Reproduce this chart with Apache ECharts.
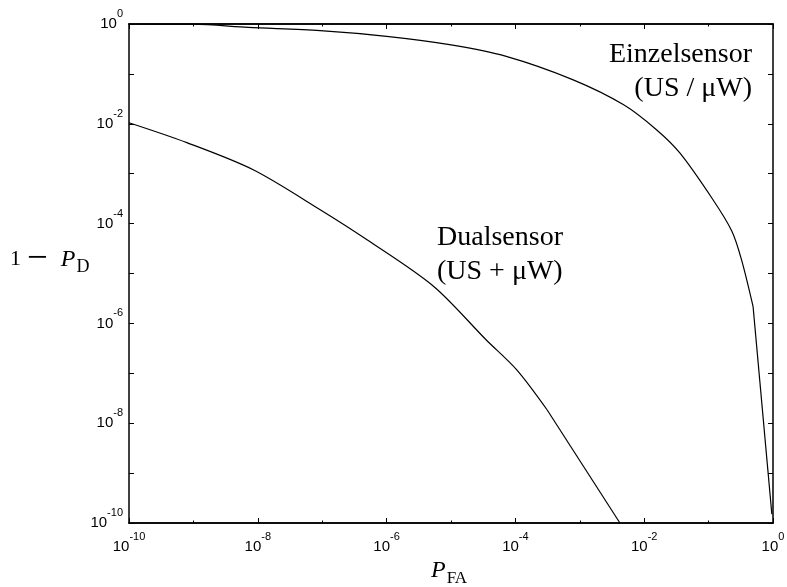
<!DOCTYPE html>
<html><head><meta charset="utf-8">
<script src="https://cdn.jsdelivr.net/npm/echarts@6/dist/echarts.min.js"></script>
<style>html,body{margin:0;padding:0;background:#fff}#c{width:787px;height:587px}</style>
</head><body><div id="c"></div>
<script>
// Einzelsensor (US / µW): P_FA vs 1 - P_D
const einzelX = [1e-10, 1e-9, 7.1e-9, 9.3e-8, 1.0e-6, 9.5e-6, 7.2e-5, 7.9e-4, 4.8e-3, 1.55e-2, 3.6e-2, 0.117, 0.229, 0.324, 0.49];
const einzelY = [1, 0.99, 0.855, 0.735, 0.565, 0.385, 0.224, 0.0759, 0.024, 7.6e-3, 2.57e-3, 3.0e-4, 7.1e-5, 1.9e-5, 2.2e-6];
// steep straight tail of the Einzelsensor curve
const einzelTailX = [0.49, 0.96];
const einzelTailY = [2.2e-6, 1.5e-10];
// Dualsensor (US + µW)
const dualX = [1e-10, 7.9e-10, 8.5e-9, 9.3e-8, 4.9e-7, 5.4e-6, 3.5e-5, 1.05e-4, 3.1e-4];
const dualY = [1.05e-2, 4.2e-3, 1.2e-3, 1.9e-4, 4.8e-5, 5.5e-6, 4.7e-7, 1.17e-7, 1.86e-8];
// straight tail of the Dualsensor curve
const dualTailX = [3.1e-4, 4.2e-3];
const dualTailY = [1.86e-8, 1e-10];
// labelled decades (exponents of 10)
const xTickExponents = [-10, -8, -6, -4, -2, 0];
const yTickExponents = [-10, -8, -6, -4, -2, 0];
const axisMin = 1e-10, axisMax = 1;

const chart = echarts.init(document.getElementById('c'), null, {renderer: 'canvas'});

const rich = {
  b: {fontSize: 15, fontFamily: 'Liberation Sans', color: '#000'},
  s: {fontSize: 11, fontFamily: 'Liberation Sans', color: '#000', padding: [0, 0, 20, 0]}
};
const fmt = (list) => (v) => {
  const e = Math.round(Math.log10(v));
  return list.includes(e) ? '{b|10}{s|' + e + '}' : '';
};
const base = {
  type: 'log', logBase: 10, min: axisMin, max: axisMax,
  splitLine: {show: false},
  axisLine: {show: true, lineStyle: {color: '#000', width: 1.5}}
};
const tick = (len) => ({show: true, inside: true, length: len, lineStyle: {color: '#000', width: 1}});
const line = (name, xs, ys, smooth) => ({
  type: 'line', name: name, xAxisIndex: 0, yAxisIndex: 0, showSymbol: false, symbol: 'none',
  smooth: smooth,
  lineStyle: {color: '#000', width: 1.2}, data: xs.map((x, i) => [x, ys[i]])
});

chart.setOption({
  animation: false,
  backgroundColor: '#fff',
  grid: {left: 129, right: 14, top: 24, bottom: 64, outerBoundsMode: 'none'},
  xAxis: [
    Object.assign({}, base, {position: 'bottom', interval: 2, axisTick: tick(5),
      axisLabel: {show: true, margin: 8, formatter: fmt(xTickExponents), rich: rich}}),
    Object.assign({}, base, {position: 'bottom', interval: 1, axisTick: tick(2.5), axisLabel: {show: false}}),
    Object.assign({}, base, {position: 'top', interval: 2, axisTick: tick(5), axisLabel: {show: false}}),
    Object.assign({}, base, {position: 'top', interval: 1, axisTick: tick(2.5), axisLabel: {show: false}})
  ],
  yAxis: [
    Object.assign({}, base, {position: 'left', interval: 1, axisTick: tick(5),
      axisLabel: {show: true, margin: 6, formatter: fmt(yTickExponents), rich: rich}}),
    Object.assign({}, base, {position: 'right', interval: 1, axisTick: tick(5), axisLabel: {show: false}})
  ],
  series: [
    line('Einzelsensor', einzelX, einzelY, 0.3),
    line('Einzelsensor tail', einzelTailX, einzelTailY, false),
    line('Dualsensor', dualX, dualY, 0.3),
    line('Dualsensor tail', dualTailX, dualTailY, false)
  ],
  graphic: [
    {type: 'text', x: 752, y: 55, style: {text: 'Einzelsensor', fill: '#000', font: '28px "Liberation Serif"', textAlign: 'right', textVerticalAlign: 'middle'}},
    {type: 'text', x: 752, y: 89, style: {text: '(US / \u03bcW)', fill: '#000', font: '28px "Liberation Serif"', textAlign: 'right', textVerticalAlign: 'middle'}},
    {type: 'text', x: 437, y: 238, style: {text: 'Dualsensor', fill: '#000', font: '28px "Liberation Serif"', textAlign: 'left', textVerticalAlign: 'middle'}},
    {type: 'text', x: 437, y: 272, style: {text: '(US + \u03bcW)', fill: '#000', font: '28px "Liberation Serif"', textAlign: 'left', textVerticalAlign: 'middle'}},
    {type: 'text', x: 10, y: 259.5, style: {
      text: '{a|1}{m|\u2212}{p|P}{s|D}', textAlign: 'left', textVerticalAlign: 'middle',
      rich: {
        a: {fontSize: 22, fontFamily: 'Liberation Serif', fill: '#000'},
        m: {fontSize: 37, fontFamily: 'Liberation Serif', fill: '#000', padding: [0, 11, 0, 6]},
        p: {fontSize: 24, fontFamily: 'Liberation Serif', fontStyle: 'italic', fill: '#000', padding: [0, 0, 0, 2]},
        s: {fontSize: 18, fontFamily: 'Liberation Serif', fill: '#000', padding: [15, 0, 0, 1]}
      }}},
    {type: 'text', x: 431, y: 571, style: {
      text: '{p|P}{s|FA}', textAlign: 'left', textVerticalAlign: 'middle',
      rich: {
        p: {fontSize: 24, fontFamily: 'Liberation Serif', fontStyle: 'italic', fill: '#000'},
        s: {fontSize: 17, fontFamily: 'Liberation Serif', fill: '#000', padding: [15, 0, 0, 1]}
      }}}
  ]
});
</script></body></html>
